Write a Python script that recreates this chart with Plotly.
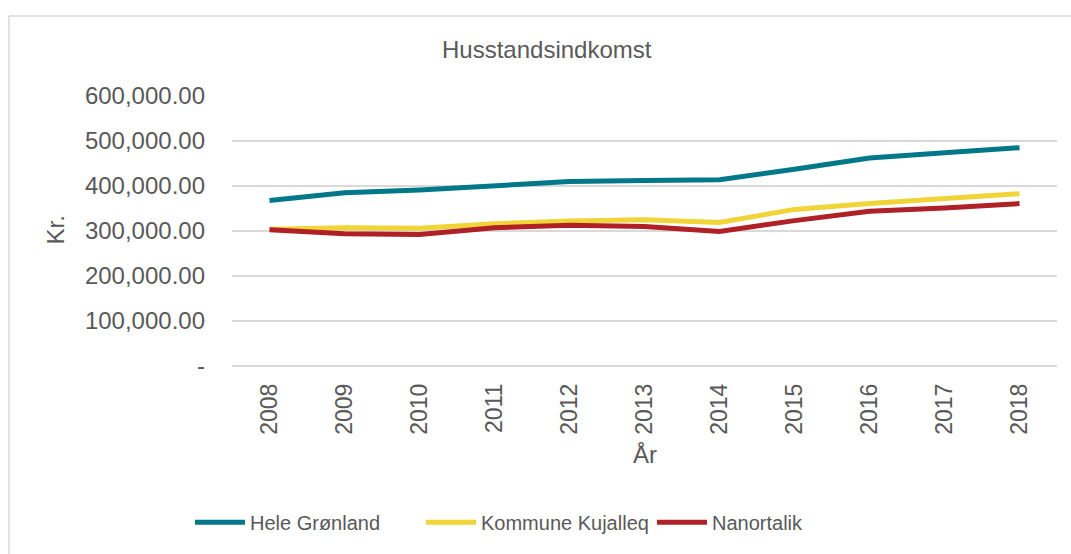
import plotly.graph_objects as go

years = ["2008", "2009", "2010", "2011", "2012", "2013", "2014", "2015", "2016", "2017", "2018"]
hele_gronland = [368000, 385000, 391000, 401000, 410000, 412000, 414000, 437000, 462000, 474000, 485000]
kommune_kujalleq = [304000, 307000, 306000, 316000, 322000, 325000, 319000, 348000, 361000, 372000, 383000]
nanortalik = [303000, 294000, 292000, 307000, 313000, 310000, 299000, 323000, 344000, 351000, 361000]

y_tickvals = [0, 100000, 200000, 300000, 400000, 500000, 600000]
y_ticktext = ["-", "100,000.00", "200,000.00", "300,000.00", "400,000.00", "500,000.00", "600,000.00"]

FONT = "Liberation Sans, Arial, sans-serif"
TXT = "#595959"
GRID = "#D9D9D9"

W, H = 1071, 554
L, R, T, B = 232, 14, 96, 185
PW = W - L - R
PH = H - T - B


def px_x(x):
    return (x - L) / PW


def px_y(y):
    return (H - B - y) / PH


fig = go.Figure()
series = [
    ("Hele Grønland", hele_gronland, "#00788A"),
    ("Kommune Kujalleq", kommune_kujalleq, "#F1D437"),
    ("Nanortalik", nanortalik, "#AF2126"),
]
for name, vals, col in series:
    fig.add_trace(go.Scatter(
        x=years, y=vals, name=name, mode="lines",
        line=dict(color=col, width=5),
    ))

fig.update_layout(
    width=W, height=H,
    margin=dict(l=L, r=R, t=T, b=B),
    paper_bgcolor="white", plot_bgcolor="white",
    font=dict(family=FONT, color=TXT, size=24),
    showlegend=True,
    legend=dict(
        orientation="h", x=px_x(190), y=px_y(527), xanchor="left", yanchor="middle",
        font=dict(size=20, color=TXT, family=FONT),
        itemwidth=50,
        entrywidth=166, entrywidthmode="pixels",
        bgcolor="rgba(0,0,0,0)",
    ),
    xaxis=dict(
        type="category", range=[-0.5, 10.5], showgrid=False, zeroline=False,
        showline=False, ticks="", tickangle=-90,
        tickfont=dict(size=23, color=TXT, family=FONT),
        ticklabelstandoff=12,
    ),
    yaxis=dict(
        range=[0, 600000], tickvals=y_tickvals, ticktext=y_ticktext,
        showgrid=True, gridcolor=GRID, gridwidth=1.5, zeroline=True,
        zerolinecolor=GRID, zerolinewidth=1.5, showline=False, ticks="",
        tickfont=dict(size=24, color=TXT, family=FONT),
        ticklabelstandoff=26,
    ),
    annotations=[
        dict(text="Husstandsindkomst", xref="paper", yref="paper",
             x=px_x(546.5), y=px_y(49), xanchor="center", yanchor="middle",
             showarrow=False, font=dict(size=24, color=TXT, family=FONT)),
        dict(text="Kr.", xref="paper", yref="paper", textangle=-90,
             x=px_x(56), y=px_y(232), xanchor="center", yanchor="middle",
             showarrow=False, font=dict(size=24, color=TXT, family=FONT)),
        dict(text="År", xref="paper", yref="paper",
             x=px_x(645), y=px_y(458), xanchor="center", yanchor="middle",
             showarrow=False, font=dict(size=24, color=TXT, family=FONT)),
    ],
    shapes=[
        dict(type="line", xref="paper", yref="paper",
             x0=px_x(9), x1=px_x(1080), y0=px_y(15), y1=px_y(15),
             line=dict(color=GRID, width=1.5)),
        dict(type="line", xref="paper", yref="paper",
             x0=px_x(9), x1=px_x(9), y0=px_y(15), y1=px_y(560),
             line=dict(color=GRID, width=1.5)),
    ],
)

fig.write_html("out.html", config={"displayModeBar": False},
               post_script="document.body.style.margin='0';")
